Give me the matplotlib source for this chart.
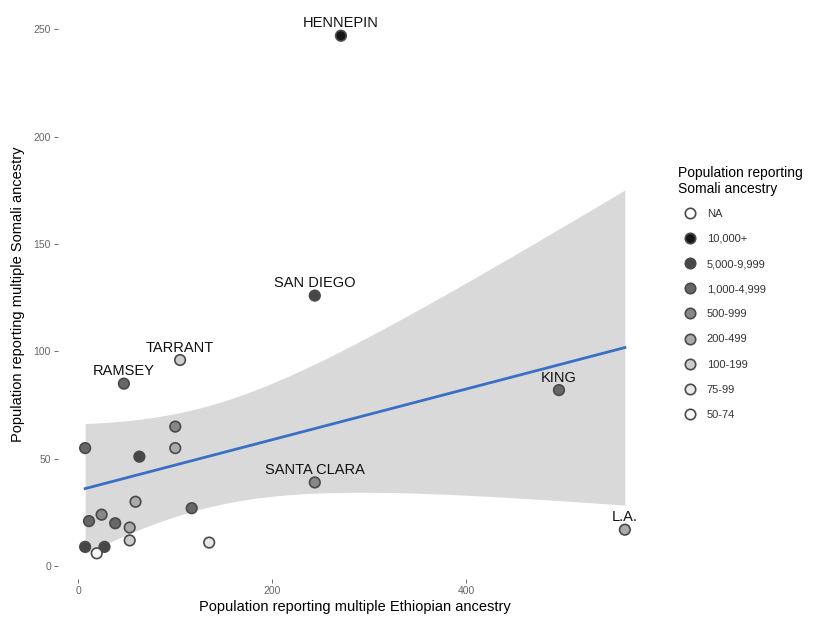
import numpy as np
import matplotlib
matplotlib.use("Agg")
import matplotlib.pyplot as plt
from matplotlib.lines import Line2D

plt.rcParams['font.family'] = ['Liberation Sans', 'DejaVu Sans']

# county-level data
ethiopian = [271, 244, 105, 47, 496, 244, 564,
             100, 7, 100, 63, 59, 117, 11, 24, 38, 53, 53, 135, 7, 27, 19]
somali = [247, 126, 96, 85, 82, 39, 17,
          65, 55, 55, 51, 30, 27, 21, 24, 20, 18, 12, 11, 9, 9, 6]
bracket = ['10,000+', '5,000-9,999', '100-199', '1,000-4,999', '1,000-4,999', '500-999', '200-499',
           '500-999', '1,000-4,999', '200-499', '5,000-9,999', '200-499', '1,000-4,999', '1,000-4,999',
           '500-999', '1,000-4,999', '200-499', '100-199', '75-99', '5,000-9,999', '5,000-9,999', '50-74']
names = ['HENNEPIN', 'SAN DIEGO', 'TARRANT', 'RAMSEY', 'KING', 'SANTA CLARA', 'L.A.']

brackets = ['NA', '10,000+', '5,000-9,999', '1,000-4,999', '500-999',
            '200-499', '100-199', '75-99', '50-74']
greys = ['#ffffff', '#161616', '#474747', '#676767', '#888888',
         '#aaaaaa', '#cccccc', '#e8e8e8', '#f8f8f8']
fill = dict(zip(brackets, greys))

x = np.array(ethiopian, dtype=float)
y = np.array(somali, dtype=float)

# linear fit + 95% confidence band (like geom_smooth(method='lm'))
n = len(x)
b, a = np.polyfit(x, y, 1)
xs = np.linspace(x.min(), x.max(), 100)
ys = a + b * xs
resid = y - (a + b * x)
s = np.sqrt(np.sum(resid ** 2) / (n - 2))
t = 2.086  # t quantile, df = 20
se = s * np.sqrt(1 / n + (xs - x.mean()) ** 2 / np.sum((x - x.mean()) ** 2))

fig = plt.figure(figsize=(8.25, 6.22), dpi=100)
ax = fig.add_axes([0.0703, 0.069, 0.72, 0.915])

ax.fill_between(xs, ys - t * se, ys + t * se, color='#d9d9d9', lw=0, zorder=1)
ax.plot(xs, ys, color='#3a6fc4', lw=2, zorder=2)

ax.scatter(x, y, s=58, c=[fill[k] for k in bracket], edgecolors='#4a4a4a',
           linewidths=1.2, zorder=3)

for i, name in enumerate(names):
    ax.annotate(name, (x[i], y[i]), xytext=(0, 9), textcoords='offset points',
                ha='center', va='center', fontsize=10.5, color='#111111', zorder=4)

ax.set_xlim(-21, 592)
ax.set_ylim(-6, 259)
ax.set_xticks([0, 200, 400])
ax.set_yticks([0, 50, 100, 150, 200, 250])
for sp in ax.spines.values():
    sp.set_visible(False)
ax.tick_params(length=3, width=0.6, color='#555555', labelsize=7.5,
               labelcolor='#666666', pad=2)
ax.set_xlabel('Population reporting multiple Ethiopian ancestry', fontsize=10.5, labelpad=3)
ax.set_ylabel('Population reporting multiple Somali ancestry', fontsize=10.5, labelpad=6)

handles = [Line2D([], [], ls='none', marker='o', markersize=7.5,
                  markerfacecolor=g, markeredgecolor='#4a4a4a', markeredgewidth=1.2)
           for g in greys]
leg = fig.legend(handles, brackets, title='Population reporting\nSomali ancestry',
                 loc='upper left', bbox_to_anchor=(0.817, 0.74), frameon=False,
                 fontsize=8, title_fontsize=10, labelspacing=1.36,
                 handletextpad=0.55, handlelength=2.0, borderaxespad=0)
leg._legend_box.align = 'left'
leg._legend_box.sep = 9
for txt in leg.get_texts():
    txt.set_color('#333333')

fig.savefig('out.png', dpi=100)
